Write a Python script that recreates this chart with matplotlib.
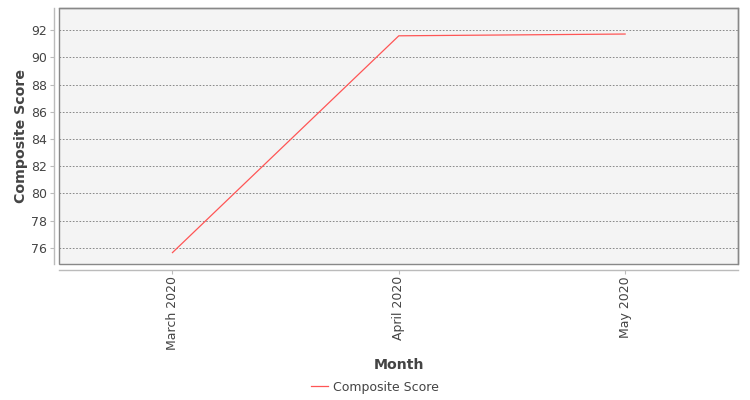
import numpy as np
import matplotlib.pyplot as plt
from matplotlib.patches import Rectangle

months = ["March 2020", "April 2020", "May 2020"]
scores = [75.66, 91.58, 91.71]
y_ticks = [76, 78, 80, 82, 84, 86, 88, 90, 92]

txt = "#444444"
plt.rcParams['font.family'] = ['DejaVu Sans']

fig = plt.figure(figsize=(7.5, 4), dpi=100)
ax = fig.add_axes([59.3 / 750, (400 - 264.3) / 400, 679 / 750, 256 / 400])
ax.set_facecolor("#f4f4f4")

x = np.arange(len(months))
ax.plot(x, scores, color="#ff5555", lw=0.9, label="Composite Score")

ax.set_xlim(-0.5, len(months) - 0.5)
ax.set_ylim(74.8, 93.6)
ax.set_xticks(x, months)
ax.set_yticks(y_ticks, [str(v) for v in y_ticks])
ax.grid(axis="y", color="#777777", ls=(0, (2, 2)), lw=0.6)
ax.set_axisbelow(True)

# plot border plus detached axis lines
for s in ["top", "right"]:
    ax.spines[s].set_color("#888888")
    ax.spines[s].set_linewidth(1)
for s in ["left", "bottom"]:
    ax.spines[s].set_position(("outward", 4))
    ax.spines[s].set_color("#bbbbbb")
    ax.spines[s].set_linewidth(1)
ax.add_patch(Rectangle((0, 0), 1, 1, transform=ax.transAxes, fill=False,
                       edgecolor="#888888", lw=1, clip_on=False, zorder=5))
ax.tick_params(axis="both", color="#bbbbbb", length=3, width=0.8, pad=2,
               labelsize=9, labelcolor=txt)
ax.tick_params(axis="x", labelrotation=90, pad=1.5)

ax.set_xlabel("Month", fontsize=10.2, fontweight="bold", color=txt, labelpad=6)
ax.set_ylabel("Composite Score", fontsize=10.2, fontweight="bold", color=txt, labelpad=2)

fig.legend(loc="center", bbox_to_anchor=(0.5, 1 - 387 / 400), frameon=False,
           fontsize=9, labelcolor=txt, handlelength=1.4, handletextpad=0.4)

fig.savefig("out.png", dpi=100)
